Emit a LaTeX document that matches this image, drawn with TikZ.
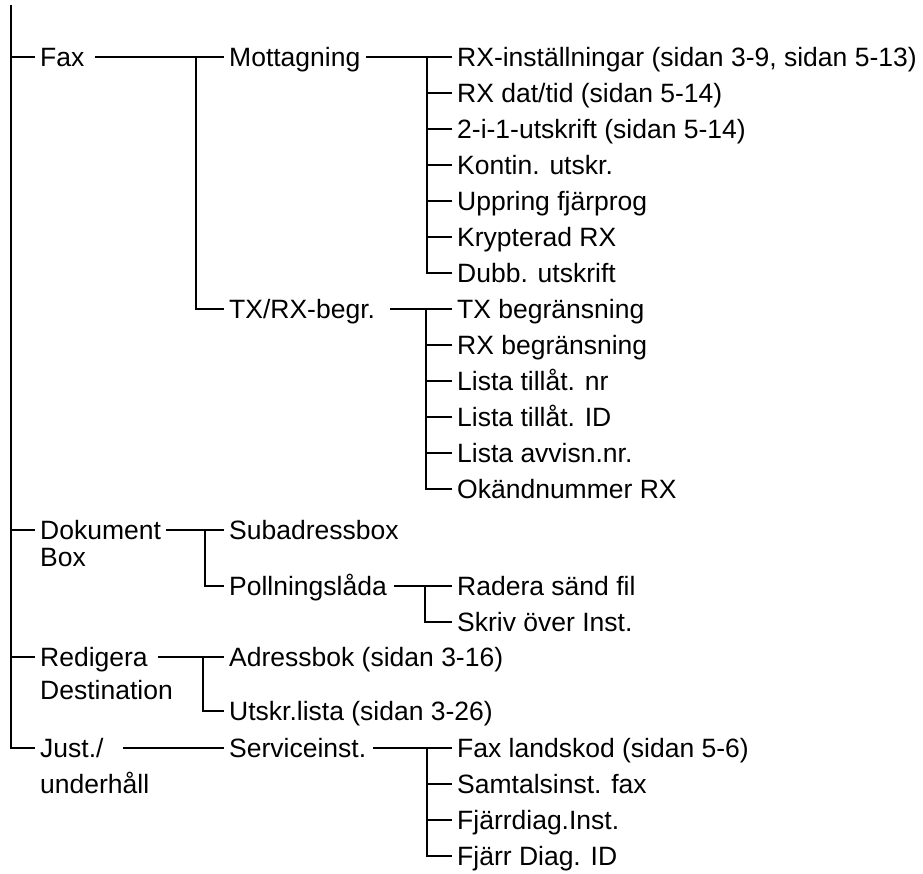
\documentclass[tikz,border=0pt]{standalone}
\usepackage{fontspec}
\setmainfont{Liberation Sans}
\begin{document}
\begin{tikzpicture}[x=1pt,y=-1pt,
  lbl/.style={anchor=west, inner xsep=5pt, inner ysep=0pt, text height=18.9pt, text depth=0pt, font=\fontsize{26.5}{31}\selectfont},
  ln/.style={line width=1.9pt}]
\useasboundingbox (0,0) rectangle (923,874);
% level 1
\node[lbl] (fax) at (35,57) {Fax};
\node[lbl] (dok) at (35,530) {Dokument};
\node[lbl] (dokb) at (35,557) {Box};
\node[lbl] (red) at (35,657) {Redigera};
\node[lbl] (redb) at (35,690) {Destination};
\node[lbl] (just) at (35,748) {Just./};
\node[lbl] (justb) at (35,784) {underhåll};
% level 2
\node[lbl] (mott) at (224,57) {Mottagning};
\node[lbl] (txrx) at (224,309) {TX/RX-begr.};
\node[lbl] (sub) at (224,530) {Subadressbox};
\node[lbl] (poll) at (224,586) {Pollningslåda};
\node[lbl] (adr) at (224,657) {Adressbok (sidan 3-16)};
\node[lbl] (utl) at (224,711) {Utskr.lista (sidan 3-26)};
\node[lbl] (serv) at (224,748) {Serviceinst.};
% level 3
\node[lbl] (m1) at (452,57) {RX-inställningar (sidan 3-9, sidan 5-13)};
\node[lbl] (m2) at (452,93) {RX dat/tid (sidan 5-14)};
\node[lbl] (m3) at (452,129) {2-i-1-utskrift (sidan 5-14)};
\node[lbl] (m4) at (452,165) {Kontin. utskr.};
\node[lbl] (m5) at (452,201) {Uppring fjärprog};
\node[lbl] (m6) at (452,237) {Krypterad RX};
\node[lbl] (m7) at (452,273) {Dubb. utskrift};
\node[lbl] (t1) at (452,309) {TX begränsning};
\node[lbl] (t2) at (452,345) {RX begränsning};
\node[lbl] (t3) at (452,381) {Lista tillåt. nr};
\node[lbl] (t4) at (452,417) {Lista tillåt. ID};
\node[lbl] (t5) at (452,453) {Lista avvisn.nr.};
\node[lbl] (t6) at (452,489) {Okändnummer RX};
\node[lbl] (p1) at (452,586) {Radera sänd fil};
\node[lbl] (p2) at (452,622) {Skriv över Inst.};
\node[lbl] (s1) at (452,748) {Fax landskod (sidan 5-6)};
\node[lbl] (s2) at (452,784) {Samtalsinst. fax};
\node[lbl] (s3) at (452,820) {Fjärrdiag.Inst.};
\node[lbl] (s4) at (452,856) {Fjärr Diag. ID};
% junctions
\coordinate (top) at (11,5);
\coordinate (jf) at (196,57);
\coordinate (jm) at (427,57);
\coordinate (jt) at (426,309);
\coordinate (jd) at (205,530);
\coordinate (jp) at (425,586);
\coordinate (jr) at (203,657);
\coordinate (js) at (427,748);
% root
\draw[ln] (top) |- (just.west);
\foreach \n in {fax,dok,red} \draw[ln] (top |- \n.west) -- (\n.west);
% Fax
\draw[ln] ([xshift=5pt]fax.east) -- (mott.west);
\draw[ln] (jf) |- (txrx.west);
\draw[ln] (mott.east) -- (m1.west);
\foreach \n in {m2,m3,m4,m5,m6} \draw[ln] (jm |- \n.west) -- (\n.west);
\draw[ln] (jm) |- (m7.west);
\draw[ln] ([xshift=10pt]txrx.east) -- (t1.west);
\foreach \n in {t2,t3,t4,t5} \draw[ln] (jt |- \n.west) -- (\n.west);
\draw[ln] (jt) |- (t6.west);
% Dokument
\draw[ln] (dok.east) -- (sub.west);
\draw[ln] (jd) |- (poll.west);
\draw[ln] ([xshift=2pt]poll.east) -- (p1.west);
\draw[ln] (jp) |- (p2.west);
% Redigera
\draw[ln] ([xshift=5pt]red.east) -- (adr.west);
\draw[ln] (jr) |- (utl.west);
% Just
\draw[ln] ([xshift=14pt]just.east) -- (serv.west);
\draw[ln] ([xshift=2pt]serv.east) -- (s1.west);
\foreach \n in {s2,s3} \draw[ln] (js |- \n.west) -- (\n.west);
\draw[ln] (js) |- (s4.west);
\end{tikzpicture}
\end{document}
